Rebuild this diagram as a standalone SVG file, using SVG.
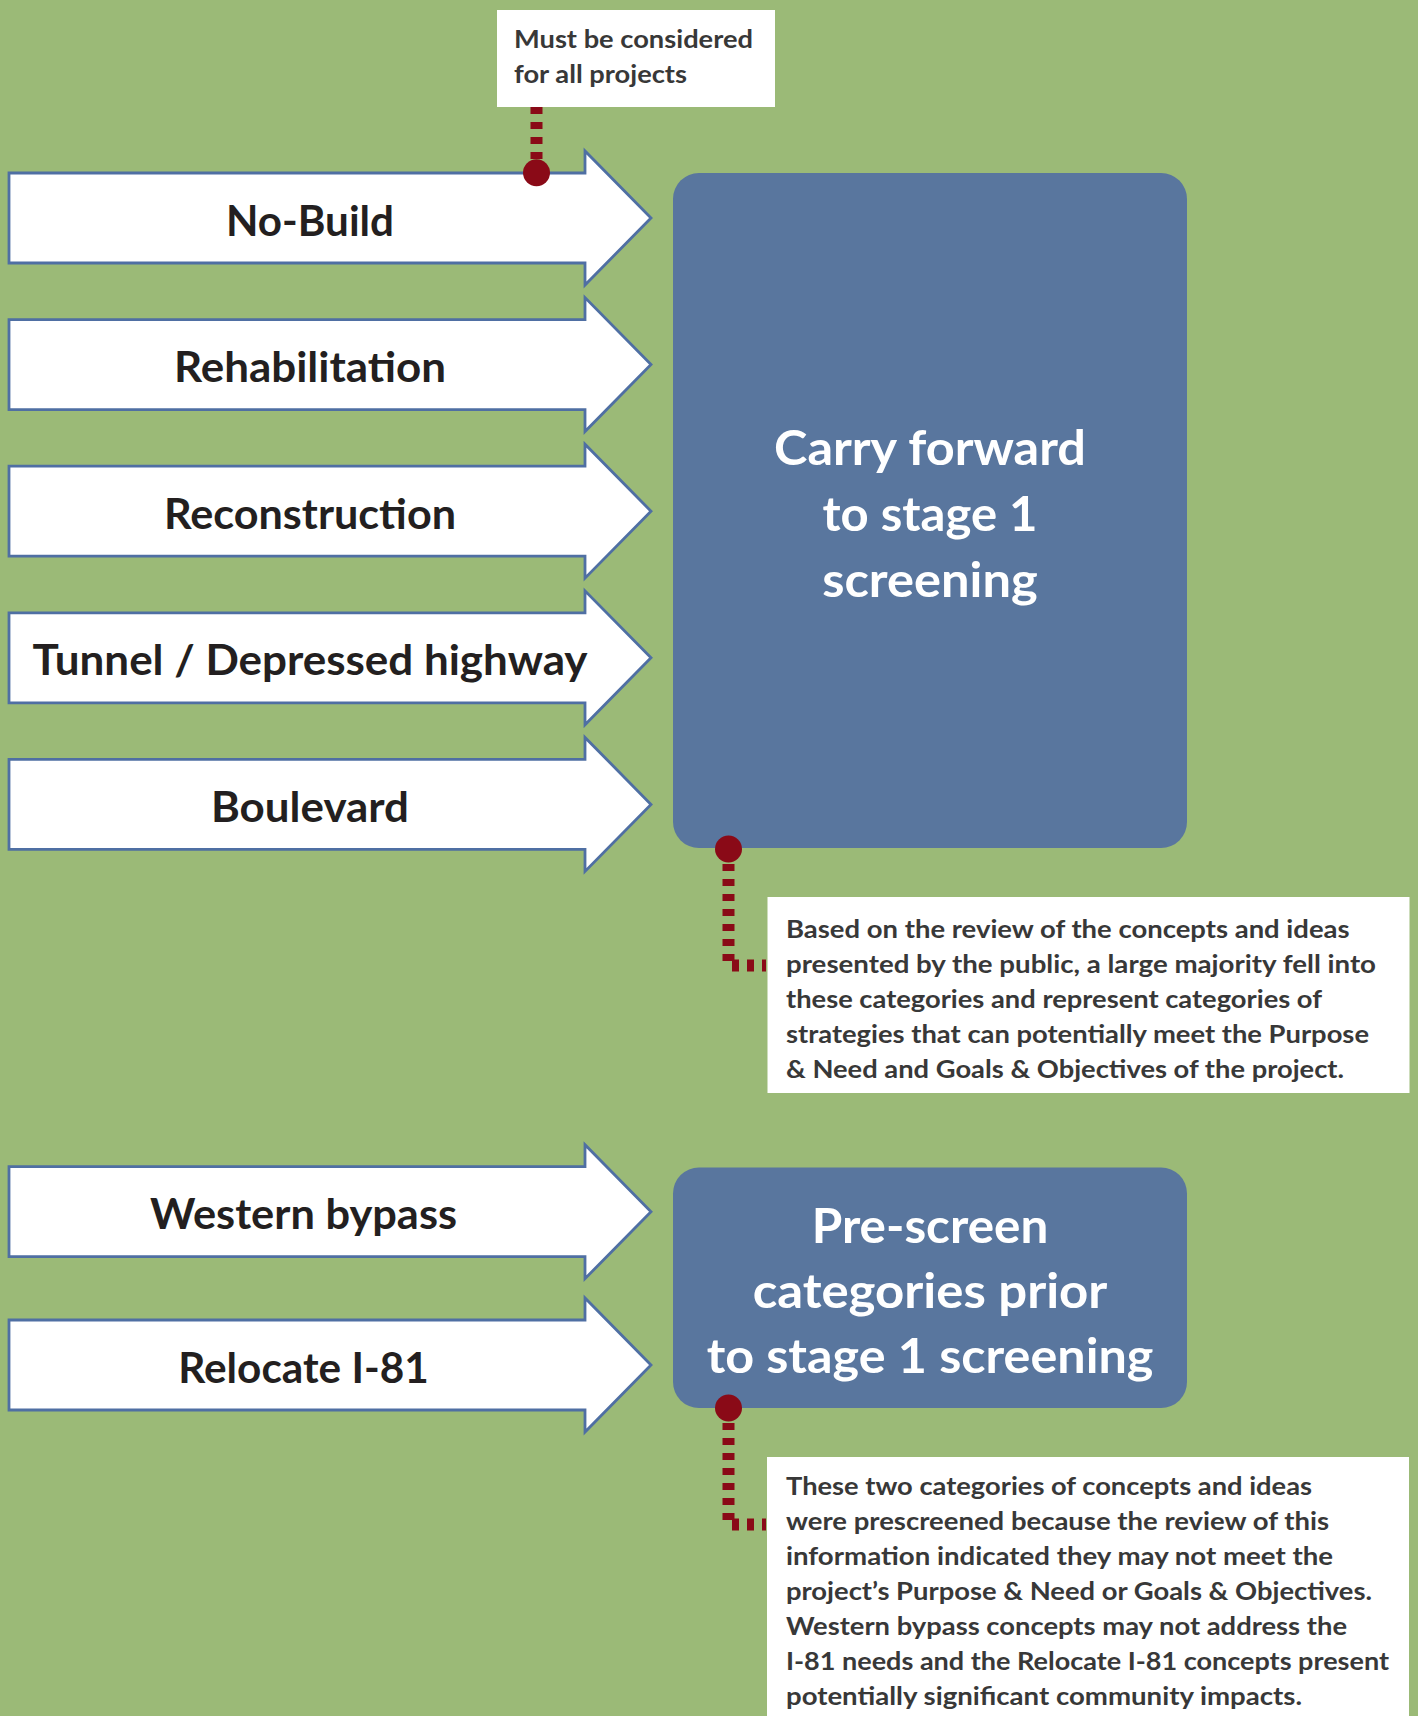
<svg xmlns="http://www.w3.org/2000/svg" width="1418" height="1716" viewBox="0 0 1418 1716">
<style>
.arrow{fill:#ffffff;stroke:#4F6FA3;stroke-width:2.8;stroke-linejoin:miter}
.lbl{font-family:Lato,"Open Sans","Liberation Sans",sans-serif;font-weight:700;font-size:42px;fill:#231F20;text-anchor:middle}
.box{fill:#59769E}
.btxt{font-family:Lato,"Open Sans","Liberation Sans",sans-serif;font-weight:700;font-size:47px;fill:#ffffff;text-anchor:middle}
.note{fill:#ffffff}
.ntxt{font-family:Lato,"Open Sans","Liberation Sans",sans-serif;font-weight:700;font-size:24px;fill:#383838}
.dot{fill:none;stroke:#8A0A17;stroke-width:12;stroke-dasharray:7 8}
.pin{fill:#8A0A17}
</style>
<rect x="0" y="0" width="1418" height="1716" fill="#9BBA77"/>

<g id="callout-top">
<rect class="note" x="497" y="10" width="278" height="97"/>
<text class="ntxt" x="514" y="48" textLength="239" lengthAdjust="spacingAndGlyphs">Must be considered</text>
<text class="ntxt" x="514" y="83" textLength="173" lengthAdjust="spacingAndGlyphs">for all projects</text>
</g>

<g id="arrow-nobuild">
<path class="arrow" d="M9,173 H585 V151 L651,218 L585,285 V263 H9 Z"/>
<text class="lbl" x="310" y="235.5" textLength="168" lengthAdjust="spacingAndGlyphs">No-Build</text>
</g>
<g id="arrow-rehabilitation">
<path class="arrow" d="M9,319.6 H585 V297.6 L651,364.6 L585,431.6 V409.6 H9 Z"/>
<text class="lbl" x="310" y="382" textLength="272" lengthAdjust="spacingAndGlyphs">Rehabilitation</text>
</g>
<g id="arrow-reconstruction">
<path class="arrow" d="M9,466.2 H585 V444.2 L651,511.2 L585,578.2 V556.2 H9 Z"/>
<text class="lbl" x="310" y="528.7" textLength="292" lengthAdjust="spacingAndGlyphs">Reconstruction</text>
</g>
<g id="arrow-tunnel">
<path class="arrow" d="M9,612.8 H585 V590.8 L651,657.8 L585,724.8 V702.8 H9 Z"/>
<text class="lbl" x="310" y="675.3" textLength="555" lengthAdjust="spacingAndGlyphs">Tunnel / Depressed highway</text>
</g>
<g id="arrow-boulevard">
<path class="arrow" d="M9,759.4 H585 V737.4 L651,804.4 L585,871.4 V849.4 H9 Z"/>
<text class="lbl" x="310" y="822" textLength="198" lengthAdjust="spacingAndGlyphs">Boulevard</text>
</g>
<g id="arrow-western">
<path class="arrow" d="M9,1166.7 H585 V1144.7 L651,1211.7 L585,1278.7 V1256.7 H9 Z"/>
<text class="lbl" x="303.5" y="1229.2" textLength="307" lengthAdjust="spacingAndGlyphs">Western bypass</text>
</g>
<g id="arrow-relocate">
<path class="arrow" d="M9,1320 H585 V1298 L651,1365 L585,1432 V1410 H9 Z"/>
<text class="lbl" x="303.5" y="1382.5" textLength="250.6" lengthAdjust="spacingAndGlyphs">Relocate I-81</text>
</g>

<g id="box-carry-forward">
<rect class="box" x="673" y="173" width="514" height="675" rx="26" ry="26"/>
<text class="btxt" x="930" y="465" textLength="312" lengthAdjust="spacingAndGlyphs">Carry forward</text>
<text class="btxt" x="930" y="530.7" textLength="215" lengthAdjust="spacingAndGlyphs">to stage 1</text>
<text class="btxt" x="930" y="596.7" textLength="215.6" lengthAdjust="spacingAndGlyphs">screening</text>
</g>

<g id="box-prescreen">
<rect class="box" x="673" y="1167.5" width="514" height="240.5" rx="26" ry="26"/>
<text class="btxt" x="930" y="1242.7" textLength="236.6" lengthAdjust="spacingAndGlyphs">Pre-screen</text>
<text class="btxt" x="930" y="1308.3" textLength="354.7" lengthAdjust="spacingAndGlyphs">categories prior</text>
<text class="btxt" x="930" y="1373.3" textLength="446.7" lengthAdjust="spacingAndGlyphs">to stage 1 screening</text>
</g>

<g id="note-carry-forward">
<rect class="note" x="767.5" y="897" width="642" height="196"/>
<text class="ntxt" x="786" y="938" textLength="563.6" lengthAdjust="spacingAndGlyphs">Based on the review of the concepts and ideas</text>
<text class="ntxt" x="786" y="973" textLength="590" lengthAdjust="spacingAndGlyphs">presented by the public, a large majority fell into</text>
<text class="ntxt" x="786" y="1008" textLength="536" lengthAdjust="spacingAndGlyphs">these categories and represent categories of</text>
<text class="ntxt" x="786" y="1043" textLength="583" lengthAdjust="spacingAndGlyphs">strategies that can potentially meet the Purpose</text>
<text class="ntxt" x="786" y="1078" textLength="558" lengthAdjust="spacingAndGlyphs">&amp; Need and Goals &amp; Objectives of the project.</text>
</g>

<g id="note-prescreen">
<rect class="note" x="767" y="1457" width="642" height="270"/>
<text class="ntxt" x="786" y="1495" textLength="526" lengthAdjust="spacingAndGlyphs">These two categories of concepts and ideas</text>
<text class="ntxt" x="786" y="1530" textLength="543" lengthAdjust="spacingAndGlyphs">were prescreened because the review of this</text>
<text class="ntxt" x="786" y="1565" textLength="547" lengthAdjust="spacingAndGlyphs">information indicated they may not meet the</text>
<text class="ntxt" x="786" y="1600" textLength="586" lengthAdjust="spacingAndGlyphs">project’s Purpose &amp; Need or Goals &amp; Objectives.</text>
<text class="ntxt" x="786" y="1635" textLength="561" lengthAdjust="spacingAndGlyphs">Western bypass concepts may not address the</text>
<text class="ntxt" x="786" y="1670" textLength="603" lengthAdjust="spacingAndGlyphs">I-81 needs and the Relocate I-81 concepts present</text>
<text class="ntxt" x="786" y="1705" textLength="516" lengthAdjust="spacingAndGlyphs">potentially significant community impacts.</text>
</g>

<g id="connectors">
<path class="dot" d="M536.5,107 V173"/>
<circle class="pin" cx="536.5" cy="172.7" r="13.5"/>
<path class="dot" d="M728.5,849 V965.5 H766"/>
<circle class="pin" cx="728.5" cy="849" r="13.5"/>
<path class="dot" d="M728.5,1408 V1524.5 H766"/>
<circle class="pin" cx="728.5" cy="1408" r="13.5"/>
</g>
</svg>
